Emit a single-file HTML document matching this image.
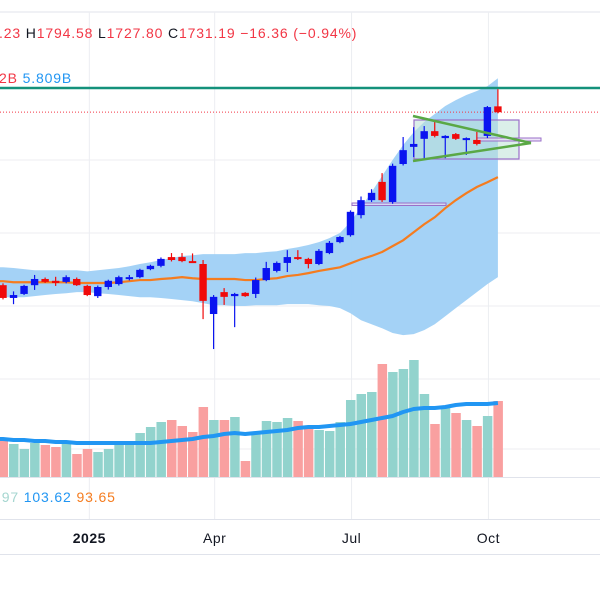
<!DOCTYPE html>
<html><head><meta charset="utf-8"><style>
html,body{margin:0;padding:0;background:#fff;}
svg{display:block;font-family:"Liberation Sans",sans-serif;}
</style></head><body>
<svg id="chart" width="600" height="600" viewBox="0 0 600 600">
<rect x="0" y="0" width="600" height="600" fill="#fff"/>
<g id="grid"></g>
<g id="band"></g>
<g id="vol"></g>
<g id="ma"></g>
<g id="draw"></g>
<g id="candles"></g>
<g id="draw2"></g>
<g id="labels"></g>
</svg>
<script>
const opens  = [1257,1222,1233,1257,1274,1269,1266,1274,1255,1227,1252,1260,1274,1279,1301,1310,1334,1334,1323,1315,1178,1238,1227,1236,1233,1271,1296,1318,1334,1329,1315,1345,1375,1394,1449,1490,1540,1485,1589,1636,1658,1679,1660,1671,1655,1655,1666,1747];
const highs  = [1262,1240,1258,1285,1278,1280,1284,1278,1258,1256,1272,1283,1285,1302,1313,1333,1345,1345,1344,1326,1230,1249,1236,1238,1278,1321,1322,1353,1353,1332,1356,1378,1392,1462,1500,1520,1564,1590,1663,1690,1693,1710,1668,1674,1662,1677,1748,1794];
const lows   = [1218,1205,1230,1244,1263,1255,1262,1255,1227,1222,1245,1256,1270,1276,1298,1306,1322,1320,1318,1164,1082,1203,1142,1225,1222,1268,1292,1293,1326,1303,1312,1342,1372,1390,1440,1485,1485,1480,1585,1608,1605,1662,1605,1655,1614,1640,1660,1728];
const closes = [1222,1230,1255,1274,1266,1263,1279,1257,1230,1252,1269,1279,1279,1299,1310,1329,1326,1323,1321,1214,1225,1225,1233,1227,1271,1304,1318,1334,1329,1315,1351,1373,1389,1458,1490,1510,1490,1584,1627,1644,1679,1666,1666,1658,1660,1644,1745,1731];
const bandUpper = [1306,1304,1301,1298,1298,1298,1298,1298,1295,1298,1301,1304,1309,1315,1320,1326,1331,1337,1339,1342,1342,1342,1342,1345,1345,1348,1350,1356,1361,1367,1375,1386,1400,1430,1471,1512,1556,1600,1641,1676,1704,1726,1748,1764,1778,1789,1802,1824];
const bandLower = [1224,1224,1224,1227,1230,1233,1235,1238,1238,1235,1233,1230,1227,1224,1224,1222,1219,1216,1213,1208,1202,1202,1200,1200,1202,1202,1202,1205,1205,1205,1202,1200,1194,1180,1161,1150,1139,1126,1120,1123,1134,1150,1172,1194,1216,1238,1260,1279];
const maLine = [1268,1265,1265,1265,1265,1265,1265,1263,1263,1263,1263,1265,1268,1271,1271,1274,1276,1279,1276,1274,1274,1274,1274,1271,1271,1274,1276,1282,1285,1290,1296,1301,1306,1317,1328,1337,1348,1364,1380,1402,1424,1443,1468,1490,1509,1526,1539,1553];
const volumes = [37,33,28,34,32,30,33,23,28,25,28,32,32,44,50,55,57,51,45,70,57,57,60,16,44,56,55,59,56,50,47,46,55,77,83,85,113,105,108,117,83,53,69,64,57,51,61,76];
const volMA = [38,37,37,36,36,35,35,34,34,34,34,34,34,34,34,35,36,37,38,40,41,43,44,43,44,45,46,47,49,50,50,51,52,53,55,57,59,61,65,68,69,69,70,72,73,73,73,74];
const xTicks = ["2025","Apr","Jul","Oct"];
const xTickIdx = [8.2,20.1,33.1,46.1];
const hGridPrices = [1600,1400,1200,1000];
const lastClose = 1731.19;

const NS="http://www.w3.org/2000/svg";
const X = i => 3 + i*10.53;
const Y = p => 160 - (p-1600)/2.74;
const VY = v => 477 - v;
function mk(tag, attrs, parent){const e=document.createElementNS(NS,tag);for(const k in attrs)e.setAttribute(k,attrs[k]);parent.appendChild(e);return e;}
const G=id=>document.getElementById(id);

const g=G('grid');
let e;
e=mk('line',{x1:0,x2:600,y1:12,y2:12,stroke:'#e0e3eb'},g);


hGridPrices.forEach(p=>{e=mk('line',{x1:0,x2:600,y1:Y(p),y2:Y(p),stroke:'#eceef2'},g);

});
e=mk('line',{x1:0,x2:600,y1:449,y2:449,stroke:'#eceef2'},g);


xTickIdx.forEach(t=>{e=mk('line',{x1:X(t),x2:X(t),y1:12,y2:519,stroke:'#eceef2'},g);

});
e=mk('line',{x1:0,x2:600,y1:477.5,y2:477.5,stroke:'#e0e3eb'},g);


e=mk('line',{x1:0,x2:600,y1:519.5,y2:519.5,stroke:'#e0e3eb'},g);


e=mk('line',{x1:0,x2:600,y1:554.5,y2:554.5,stroke:'#e0e3eb'},g);



let d='M0,'+Y(bandUpper[0]);
bandUpper.forEach((v,i)=>d+=' L'+X(i)+','+Y(v));
for(let i=bandLower.length-1;i>=0;i--) d+=' L'+X(i)+','+Y(bandLower[i]);
d+=' L0,'+Y(bandLower[0])+' Z';
e=mk('path',{d:d,fill:'#9fd0f6',opacity:0.95},G('band'));



const vg=G('vol');
volumes.forEach((v,i)=>{const up=closes[i]>=opens[i];
 e=mk('rect',{x:X(i)-4.5,y:VY(v),width:9.5,height:v,fill:up?'#92d3cd':'#f9a0a0'},vg);
 
 });
d='M0,'+VY(volMA[0]);volMA.forEach((v,i)=>d+=' L'+X(i)+','+VY(v));
e=mk('path',{d:d,fill:'none',stroke:'#2196f3','stroke-width':4,'stroke-linejoin':'round'},vg);



d='M0,'+Y(maLine[0]);maLine.forEach((v,i)=>d+=' L'+X(i)+','+Y(v));
e=mk('path',{d:d,fill:'none',stroke:'#f57c1f','stroke-width':2.2},G('ma'));



const dr=G('draw');
e=mk('line',{x1:0,x2:600,y1:Y(lastClose),y2:Y(lastClose),stroke:'#f23645','stroke-width':1,'stroke-dasharray':'1 2'},dr);


e=mk('line',{x1:0,x2:600,y1:88,y2:88,stroke:'#14917b','stroke-width':2.5},dr);


e=mk('rect',{x:414,y:120,width:105,height:39,fill:'rgba(190,225,215,0.55)',stroke:'#9a6fc8','stroke-width':1.2},dr);


e=mk('rect',{x:477,y:138,width:64,height:3,fill:'rgba(230,220,245,0.7)',stroke:'#9a6fc8','stroke-width':1},dr);


e=mk('rect',{x:352,y:203,width:94,height:2.5,fill:'rgba(230,220,245,0.7)',stroke:'#9a6fc8','stroke-width':1},dr);



const cg=G('candles');
opens.forEach((o,i)=>{const c=closes[i],up=c>=o,col=up?'#0a14f0':'#f00a0a',x=X(i);
 e=mk('line',{x1:x,x2:x,y1:Y(highs[i]),y2:Y(lows[i]),stroke:col,'stroke-width':1.2},cg);
 
 
 const t=Y(Math.max(o,c)),b=Y(Math.min(o,c));
 e=mk('rect',{x:x-3.7,y:t,width:7.4,height:Math.max(b-t,2),fill:col},cg);
 
 });

const dr2=G('draw2');
e=mk('line',{x1:413,y1:116,x2:531,y2:143,stroke:'#5aa845','stroke-width':2.5},dr2);


e=mk('line',{x1:413,y1:161,x2:531,y2:143,stroke:'#5aa845','stroke-width':2.5},dr2);



const lg=G('labels');
function txt(x,y,parts,name,size,weight,ls){const t=mk('text',{x:x,y:y,'font-size':size||13,'font-weight':weight||'normal','letter-spacing':ls||0},lg);
 
 
 parts.forEach(p=>{const s=mk('tspan',{fill:p[1]},t);s.textContent=p[0];});return t;}
txt(-1,38,[['.23 ','#f23645'],['H','#131722'],['1794.58 ','#f23645'],['L','#131722'],['1727.80 ','#f23645'],['C','#131722'],['1731.19 ','#f23645'],['−16.36 (−0.94%)','#f23645']],'ohlc-legend',14,'normal',0.85);
txt(-1,83,[['2B ','#f23645'],['5.809B','#2196f3']],'volume-legend',14,'normal',0.85);
txt(-3,502,[['.97 ','#a5d6d0'],['103.62 ','#2196f3'],['93.65','#f57c1f']],'volume-ma-legend',14,'normal',0.85);
xTicks.forEach((s,k)=>{const t=txt(X(xTickIdx[k]),543,[[s,'#131722']],'x-tick-label',14,k===0?'bold':'normal',0.5);t.setAttribute('text-anchor','middle');});
</script>
</body></html>
